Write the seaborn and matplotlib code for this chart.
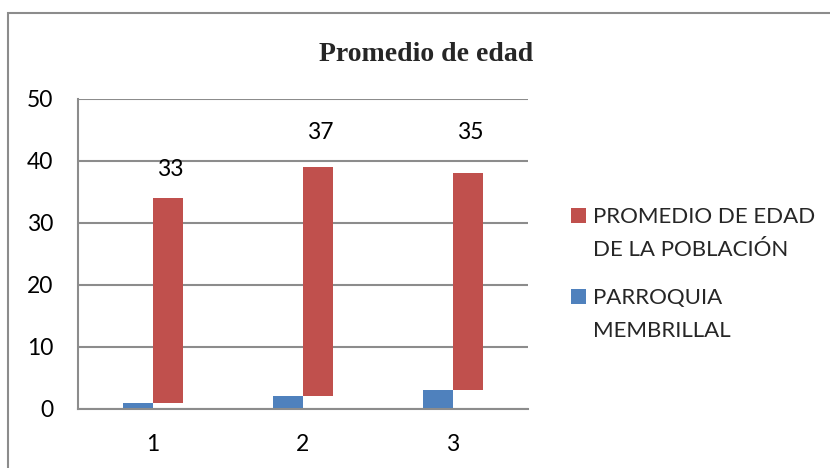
import numpy as np
import pandas as pd
import matplotlib
matplotlib.use("Agg")
import matplotlib.pyplot as plt
from matplotlib.patches import Rectangle
import seaborn as sns

# Data
categories = ["1", "2", "3"]
parroquia = [1, 2, 3]
promedio = [33, 37, 35]
label_offsets = [4.6, 5.5, 6.5]
series_names = ["PARROQUIA MEMBRILLAL", "PROMEDIO DE EDAD DE LA POBLACIÓN"]
legend_lines = {
    series_names[1]: ["PROMEDIO DE EDAD", "DE LA POBLACIÓN"],
    series_names[0]: ["PARROQUIA", "MEMBRILLAL"],
}
yticks = [0, 10, 20, 30, 40, 50]

BLUE = "#4F81BD"
RED = "#C0504D"
GRID = "#8C8C8C"
FS = 16.5

sns.set_theme(style="white")
plt.rcParams["font.family"] = ["Lato", "DejaVu Sans"]

W, H = 830, 468
fig = plt.figure(figsize=(W / 100, H / 100), dpi=100)


def px(x, y):
    return x / W, 1 - y / H


ax = fig.add_axes([77.7 / W, (H - 408.7) / H, 450 / W, 310 / H])

df = pd.DataFrame({
    "cat": categories * 2,
    "serie": [series_names[0]] * 3 + [series_names[1]] * 3,
    "valor": parroquia + promedio,
})

sns.barplot(data=df, x="cat", y="valor", hue="serie",
            hue_order=series_names, order=categories,
            palette=[BLUE, RED], width=0.4, dodge=True,
            saturation=1, errorbar=None, legend=False,
            linewidth=0, edgecolor="none", ax=ax)

# red segments float on top of the blue values
for patch, base, val, off in zip(ax.containers[1].patches, parroquia,
                                 promedio, label_offsets):
    patch.set_y(base)
    cx = patch.get_x() + patch.get_width() / 2 + 0.02
    ax.text(cx, base + val + off, f"{val}", ha="center", va="center",
            fontsize=FS, color="black")

ax.set_ylim(0, 50)
ax.set_xlim(-0.5, 2.5)
ax.set_yticks(yticks)
ax.yaxis.grid(True, color=GRID, linewidth=1.5)
ax.set_axisbelow(True)
ax.tick_params(axis="both", length=0, labelsize=FS, colors="black")
ax.tick_params(axis="y", pad=17.5)
ax.tick_params(axis="x", pad=18)
ax.set_xlabel("")
ax.set_ylabel("")
for side in ["top", "right"]:
    ax.spines[side].set_visible(False)
for side in ["left", "bottom"]:
    ax.spines[side].set_color(GRID)
    ax.spines[side].set_linewidth(1.5)

tx, ty = px(426, 61)
fig.text(tx, ty, "Promedio de edad", ha="center", va="baseline",
         fontsize=20, fontweight="bold", family=["Liberation Serif"])

# legend
entries = [(RED, series_names[1], 223.3), (BLUE, series_names[0], 304.3)]
for color, name, base in entries:
    x0, y0 = px(571, base)
    fig.patches.append(Rectangle((x0, y0), 15 / W, 15 / H,
                                 transform=fig.transFigure,
                                 facecolor=color, edgecolor="none"))
    for i, line in enumerate(legend_lines[name]):
        lx, ly = px(593, base + i * 32.4)
        fig.text(lx, ly, line, ha="left", va="baseline", fontsize=16)

# chart frame
fx, fy = px(8.3, 13.3)
fig.patches.append(Rectangle((fx, -0.1), 1.2, fy + 0.1,
                             transform=fig.transFigure, facecolor="none",
                             edgecolor=GRID, linewidth=1.5))

fig.savefig("out.png", dpi=100)
